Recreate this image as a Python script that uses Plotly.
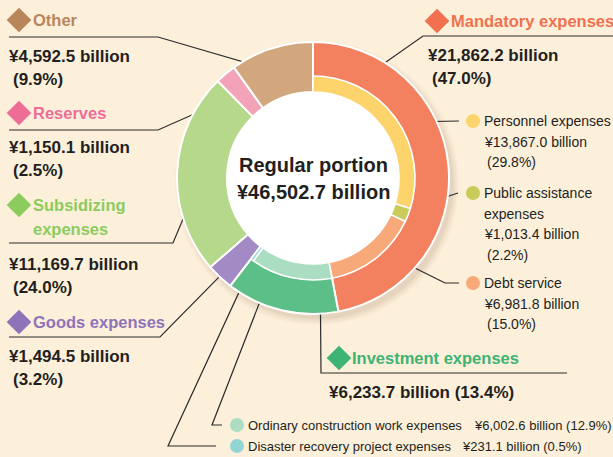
import math
import plotly.graph_objects as go

W, H = 613, 457
BG = "#FDF0DB"
INK = "#231F20"
FONT = "Liberation Sans, Arial, Helvetica, sans-serif"

# ---- data (¥ billion, share of total %) ----
total = 46502.7
outer_labels = ["Mandatory expenses", "Investment expenses", "Goods expenses",
                "Subsidizing expenses", "Reserves", "Other"]
outer_values = [21862.2, 6233.7, 1494.5, 11169.7, 1150.1, 4592.5]
outer_shares = [47.0, 13.4, 3.2, 24.0, 2.5, 9.9]

inner_labels = ["Personnel expenses", "Public assistance expenses", "Debt service",
                "Ordinary construction work expenses", "Disaster recovery project expenses"]
inner_values = [13867.0, 1013.4, 6981.8, 6002.6, 231.1]
inner_shares = [29.8, 2.2, 15.0, 12.9, 0.5]

# ---- styles ----
outer_colors = ["#F3805F", "#5CBF87", "#A38AC4", "#B5D88A", "#F2A3B8", "#D3A77E"]
inner_colors = ["#FDD46C", "#C9CB5B", "#F7A979", "#ABDDC2", "#93D5D2"]
head_colors = {"Mandatory expenses": "#F0704F", "Investment expenses": "#3DB374",
               "Goods expenses": "#8E73B8", "Subsidizing expenses": "#8CCB5E",
               "Reserves": "#EE6D96", "Other": "#B8865A"}

CX, CY = 313, 178          # ring centre (px)
R_OUT, R_MID, R_HOLE = 136, 102, 86


def fmt(v):
    return f"¥{v:,.1f} billion"


def pct(s):
    return f"({s:.1f}%)"


def pie_domain(r):
    return dict(x=[(CX - r) / W, (CX + r) / W], y=[1 - (CY + r) / H, 1 - (CY - r) / H])


fig = go.Figure()

# soft shadow under the ring, then a white disc for the centre
for i, a in enumerate([0.03, 0.035, 0.04, 0.05]):
    rr = R_OUT + 6 - i * 2
    fig.add_shape(type="circle", xref="x", yref="y", layer="below",
                  x0=CX + 4 - rr, x1=CX + 4 + rr, y0=CY + 5 - rr, y1=CY + 5 + rr,
                  line_width=0, fillcolor=f"rgba(90,60,30,{a})")
fig.add_shape(type="circle", xref="x", yref="y", layer="below",
              x0=CX - R_HOLE - 2, x1=CX + R_HOLE + 2, y0=CY - R_HOLE - 2, y1=CY + R_HOLE + 2,
              line_width=0, fillcolor="white")

# outer ring: all six categories
fig.add_trace(go.Pie(
    labels=outer_labels, values=outer_values, sort=False, direction="clockwise",
    rotation=0, hole=R_HOLE / R_OUT, domain=pie_domain(R_OUT),
    marker=dict(colors=outer_colors, line=dict(color="white", width=2)),
    textinfo="none", hoverinfo="label+value", showlegend=False))

# inner ring: breakdown of mandatory and investment expenses
rest = total - sum(inner_values)
fig.add_trace(go.Pie(
    labels=inner_labels + ["rest"], values=inner_values + [rest], sort=False,
    direction="clockwise", rotation=0, hole=R_HOLE / R_MID, domain=pie_domain(R_MID),
    marker=dict(colors=inner_colors + ["rgba(0,0,0,0)"],
                line=dict(color=["white"] * 5 + ["rgba(0,0,0,0)"], width=[1.6] * 5 + [0])),
    textinfo="none", hoverinfo="label+value", showlegend=False))

# centre caption
fig.add_annotation(x=CX, y=165, xref="x", yref="y", text="<b>Regular portion</b>",
                   showarrow=False, font=dict(family=FONT, size=20, color=INK))
fig.add_annotation(x=CX, y=192, xref="x", yref="y", text=f"<b>¥{total:,.1f} billion</b>",
                   showarrow=False, font=dict(family=FONT, size=20, color=INK))


# ---- anchor dots on the slices ----
def slice_angles(values):
    tot = sum(values)
    out, acc = [], 0.0
    for v in values:
        a0 = acc / tot * 360
        acc += v
        out.append((a0, acc / tot * 360))
    return out


outer_ang = dict(zip(outer_labels, slice_angles(outer_values)))
inner_ang = dict(zip(inner_labels, slice_angles(inner_values + [rest])[:5]))

dot_frac = {"Mandatory expenses": 0.17, "Investment expenses": 0.15,
            "Ordinary construction work expenses": 0.75, "Debt service": 0.43}


def dot(label):
    if label in inner_ang:
        a0, a1 = inner_ang[label]
        r = (R_HOLE + R_MID) / 2
    else:
        a0, a1 = outer_ang[label]
        r = (R_MID + R_OUT) / 2 + 1 if label in ("Mandatory expenses", "Investment expenses") \
            else (R_HOLE + R_OUT) / 2
    th = math.radians(a0 + dot_frac.get(label, 0.5) * (a1 - a0))
    return CX + r * math.sin(th), CY - r * math.cos(th)


# leader line bends/ends for every label
leaders = {
    "Other": [(158, 37), (9, 37)],
    "Reserves": [(158, 130), (9, 130)],
    "Subsidizing expenses": [(173, 243), (9, 243)],
    "Goods expenses": [(160, 337), (9, 337)],
    "Mandatory expenses": [(423, 36), (613, 36)],
    "Investment expenses": [(321, 373), (567, 373)],
    "Personnel expenses": [(459, 121)],
    "Public assistance expenses": [(458, 193)],
    "Debt service": [(445, 283), (459, 283)],
    "Ordinary construction work expenses": [(212, 425), (222, 425)],
    "Disaster recovery project expenses": [(168, 446), (216, 446)],
}

for lab, pts in leaders.items():
    x0, y0 = dot(lab)
    xs = [x0] + [p[0] for p in pts]
    ys = [y0] + [p[1] for p in pts]
    fig.add_trace(go.Scatter(x=xs, y=ys, mode="lines", line=dict(color="#2B2B2B", width=1.2),
                             hoverinfo="skip", showlegend=False))

dx, dy = zip(*[dot(l) for l in leaders])
fig.add_trace(go.Scatter(x=dx, y=dy, mode="markers", marker=dict(color="#1A1A1A", size=11),
                         hoverinfo="skip", showlegend=False))


# ---- text blocks ----
def txt(x, y, s, size, color=INK, bold=False):
    fig.add_annotation(x=x, y=y, xref="x", yref="y", text=f"<b>{s}</b>" if bold else s,
                       showarrow=False, xanchor="left", yanchor="middle",
                       font=dict(family=FONT, size=size, color=color))


HEAD, VAL, SMALL = 16.5, 17, 14

diamonds = []
# left column
left = [("Other", ["Other"], 20, 56), ("Reserves", ["Reserves"], 113, 147),
        ("Subsidizing expenses", ["Subsidizing", "expenses"], 205, 264),
        ("Goods expenses", ["Goods expenses"], 322, 356)]
for lab, lines, yh, yv in left:
    i = outer_labels.index(lab)
    diamonds.append((19, yh, head_colors[lab]))
    for k, ln in enumerate(lines):
        txt(31, yh + 24 * k, ln, HEAD, head_colors[lab], True)
    txt(7, yv, fmt(outer_values[i]), VAL, INK, True)
    txt(11, yv + 23, pct(outer_shares[i]), VAL, INK, True)

# mandatory
i = outer_labels.index("Mandatory expenses")
diamonds.append((437, 21, head_colors["Mandatory expenses"]))
txt(449, 21, "Mandatory expenses", HEAD, head_colors["Mandatory expenses"], True)
txt(426, 55, fmt(outer_values[i]), VAL, INK, True)
txt(430, 78, pct(outer_shares[i]), VAL, INK, True)

# investment
i = outer_labels.index("Investment expenses")
diamonds.append((339, 358, head_colors["Investment expenses"]))
txt(350, 358, "Investment expenses", HEAD, head_colors["Investment expenses"], True)
txt(327, 392, fmt(outer_values[i]) + " " + pct(outer_shares[i]), VAL, INK, True)

# breakdown of mandatory expenses
bullets = []
right = [("Personnel expenses", ["Personnel expenses"], 121),
         ("Public assistance expenses", ["Public assistance", "expenses"], 193),
         ("Debt service", ["Debt service"], 283)]
for lab, lines, y in right:
    j = inner_labels.index(lab)
    bullets.append((473, y, inner_colors[j]))
    rows = lines + [fmt(inner_values[j])]
    for k, ln in enumerate(rows):
        txt(482, y + 20.7 * k, ln, SMALL)
    txt(485, y + 20.7 * len(rows), pct(inner_shares[j]), SMALL)

# breakdown of investment expenses
bottom = [("Ordinary construction work expenses", 425, 472),
          ("Disaster recovery project expenses", 446, 460)]
for lab, y, xv in bottom:
    j = inner_labels.index(lab)
    bullets.append((237, y, inner_colors[j]))
    txt(246, y, lab, 13)
    txt(xv, y, fmt(inner_values[j]) + " " + pct(inner_shares[j]), 13)

bx, by, bc = zip(*bullets)
fig.add_trace(go.Scatter(x=bx, y=by, mode="markers", marker=dict(color=bc, size=14),
                         hoverinfo="skip", showlegend=False))
qx, qy, qc = zip(*diamonds)
fig.add_trace(go.Scatter(x=qx, y=qy, mode="markers",
                         marker=dict(color=qc, size=19, symbol="diamond"),
                         hoverinfo="skip", showlegend=False))

fig.update_layout(
    width=W, height=H, margin=dict(l=0, r=0, t=0, b=0),
    paper_bgcolor=BG, plot_bgcolor=BG,
    xaxis=dict(range=[0, W], visible=False, fixedrange=True),
    yaxis=dict(range=[H, 0], visible=False, fixedrange=True),
)

fig.write_html("out.html")
